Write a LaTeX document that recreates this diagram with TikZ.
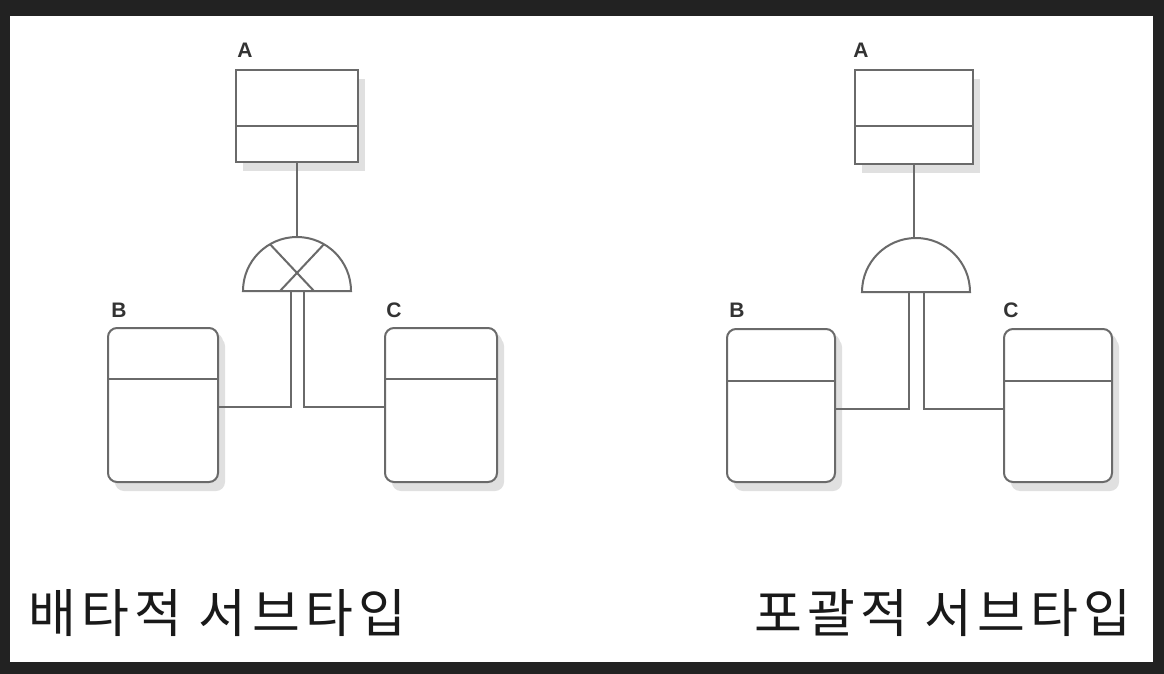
\documentclass[tikz,border=0pt]{standalone}
\usepackage{fontspec}
\newfontfamily\kr[LetterSpace=10]{Noto Sans CJK KR}
\newfontfamily\lab{Liberation Sans}
\usetikzlibrary{calc,shadows}
\definecolor{frame}{HTML}{222222}
\definecolor{ln}{HTML}{6A6A6A}
\definecolor{lbl}{HTML}{333333}
\tikzset{
  ent/.style={draw=ln, line width=2pt, fill=white, inner sep=0pt,
    drop shadow={shadow xshift=7pt, shadow yshift=-9pt, fill=black!12, opacity=1}},
  rent/.style={ent, rounded corners=9pt,
    drop shadow={shadow xshift=5pt, shadow yshift=-5pt, fill=black!12, opacity=1}},
  conn/.style={draw=ln, line width=2pt},
  lettr/.style={font=\lab\bfseries\fontsize{21}{21}\selectfont, text=lbl, inner sep=0pt},
  title/.style={font=\kr\fontsize{52}{52}\selectfont, text=black!90, inner sep=0pt}
}
\begin{document}
\begin{tikzpicture}[x=1pt,y=-1pt]
\useasboundingbox (0,0) rectangle (1164,674);
\fill[frame] (0,0) rectangle (1164,674);
\fill[white] (10,16) rectangle (1153,662);

% ---------- left diagram ----------
\node[ent, minimum width=122pt, minimum height=92pt] (A1) at (297,116) {};
\draw[conn] ($(A1.north west)+(0,57)$) -- ($(A1.north east)+(0,57)$);
\node[rent, minimum width=110pt, minimum height=154pt] (B1) at (163,405) {};
\draw[conn] ($(B1.north west)+(0,52)$) -- ($(B1.north east)+(0,52)$);
\node[rent, minimum width=112pt, minimum height=154pt] (C1) at (441,405) {};
\draw[conn] ($(C1.north west)+(0,52)$) -- ($(C1.north east)+(0,52)$);
\node[lettr] (la1) at (245,50) {A};
\node[lettr] (lb1) at (119,310) {B};
\node[lettr] (lc1) at (394,310) {C};

\coordinate (g1) at (297,291);
\coordinate (g1top) at (297,237);
\coordinate (j1) at (0,407);
\draw[conn] (A1.south) -- (g1top);
\draw[conn] ($(g1)+(-54,0)$) arc[start angle=180, end angle=360, radius=54] -- cycle;
\draw[conn] ($(g1)+(-27,-46.8)$) -- ($(g1)+(17,0)$);
\draw[conn] ($(g1)+(27,-46.8)$) -- ($(g1)+(-17,0)$);
\draw[conn] ($(g1)+(-6.5,0)$) |- (B1.east |- j1);
\draw[conn] ($(g1)+(6.5,0)$) |- (C1.west |- j1);

\node[title, anchor=west] (t1) at (28,613) {배타적 서브타입};

% ---------- right diagram ----------
\node[ent, minimum width=118pt, minimum height=94pt] (A2) at (914,117) {};
\draw[conn] ($(A2.north west)+(0,57)$) -- ($(A2.north east)+(0,57)$);
\node[rent, minimum width=108pt, minimum height=153pt] (B2) at (781,405.5) {};
\draw[conn] ($(B2.north west)+(0,53)$) -- ($(B2.north east)+(0,53)$);
\node[rent, minimum width=108pt, minimum height=153pt] (C2) at (1058,405.5) {};
\draw[conn] ($(C2.north west)+(0,53)$) -- ($(C2.north east)+(0,53)$);
\node[lettr] (la2) at (861,50) {A};
\node[lettr] (lb2) at (737,310) {B};
\node[lettr] (lc2) at (1011,310) {C};

\coordinate (g2) at (916,292);
\coordinate (g2top) at (914,238);
\coordinate (j2) at (0,409);
\draw[conn] (A2.south) -- (g2top);
\draw[conn] ($(g2)+(-54,0)$) arc[start angle=180, end angle=360, radius=54] -- cycle;
\draw[conn] ($(g2)+(-7.5,0)$) |- (B2.east |- j2);
\draw[conn] ($(g2)+(7.5,0)$) |- (C2.west |- j2);

\node[title, anchor=east] (t2) at (1132,613) {포괄적 서브타입};
\end{tikzpicture}
\end{document}
